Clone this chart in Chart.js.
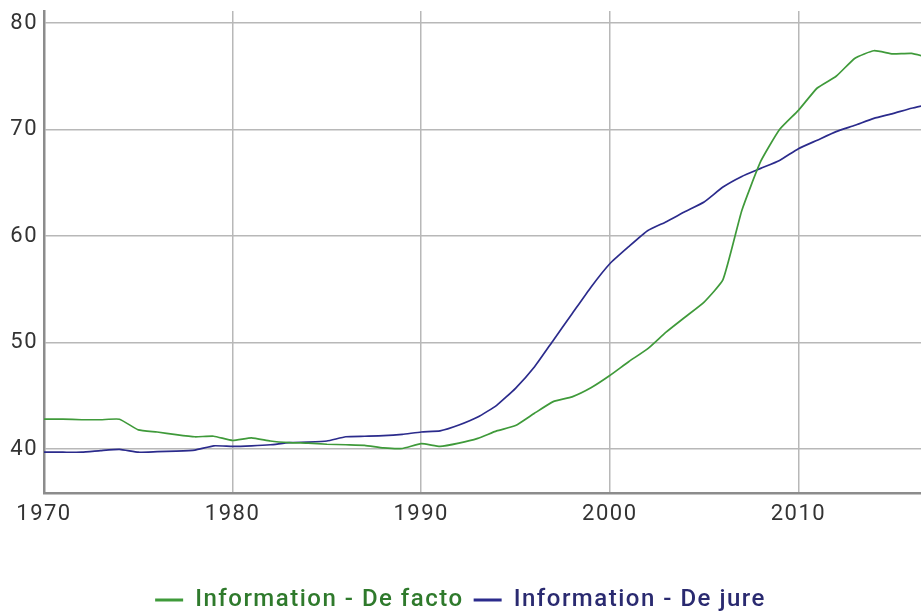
<!DOCTYPE html>
<html>
<head>
<meta charset="utf-8">
<script src="https://cdn.jsdelivr.net/npm/chart.js@4.4.1/dist/chart.umd.min.js"></script>
<style>
  html, body { margin: 0; padding: 0; background: #ffffff; }
  #wrap { width: 921px; height: 614px; }
</style>
</head>
<body>
<div id="wrap"><canvas id="c" width="921" height="614"></canvas></div>
<script>
const years = [1970,1971,1972,1973,1974,1975,1976,1977,1978,1979,
               1980,1981,1982,1983,1984,1985,1986,1987,1988,1989,
               1990,1991,1992,1993,1994,1995,1996,1997,1998,1999,
               2000,2001,2002,2003,2004,2005,2006,2007,2008,2009,
               2010,2011,2012,2013,2014,2015,2016,2017];
const deFacto = [42.8,42.8,42.75,42.75,42.8,41.8,41.6,41.35,41.15,41.2,
                 40.8,41.05,40.75,40.6,40.55,40.45,40.4,40.35,40.1,40.05,
                 40.5,40.25,40.55,41.0,41.7,42.2,43.35,44.45,44.9,45.75,
                 46.9,48.2,49.4,51.0,52.4,53.8,55.9,62.4,67.0,70.0,
                 71.8,73.9,75.0,76.7,77.4,77.1,77.15,76.7];
const deJure = [39.7,39.7,39.7,39.85,39.97,39.7,39.75,39.8,39.9,40.3,
                40.25,40.3,40.4,40.6,40.65,40.75,41.15,41.2,41.25,41.38,
                41.6,41.7,42.25,43.0,44.1,45.7,47.7,50.2,52.7,55.2,
                57.4,59.0,60.5,61.35,62.3,63.2,64.6,65.6,66.35,67.1,
                68.2,69.0,69.8,70.4,71.05,71.5,72.0,72.4];
const xTicks = [1970,1980,1990,2000,2010];
const yTicks = [40,50,60,70,80];
const seriesNames = ['Information - De facto','Information - De jure'];

const lineColors = ['#3f9a3a','#2b2b8c'];
const textColors = ['#2f7a2c','#2a2a70'];

const toPts = arr => years.map((y,i) => ({x: y, y: arr[i]}));

const spacingPlugin = {
  id: 'spacing',
  beforeUpdate: c => { c.ctx.letterSpacing = '1.5px'; },
  beforeDraw: c => { c.ctx.letterSpacing = '1.5px'; }
};

new Chart(document.getElementById('c'), {
  type: 'line',
  plugins: [spacingPlugin],
  data: {
    datasets: [
      { label: seriesNames[0], data: toPts(deFacto), borderColor: lineColors[0], backgroundColor: lineColors[0],
        borderWidth: 1.7, pointRadius: 0, tension: 0.15, fill: false },
      { label: seriesNames[1], data: toPts(deJure), borderColor: lineColors[1], backgroundColor: lineColors[1],
        borderWidth: 1.7, pointRadius: 0, tension: 0.15, fill: false }
    ]
  },
  options: {
    responsive: false,
    animation: false,
    devicePixelRatio: 1,
    layout: { padding: { top: 11, right: 0, bottom: -8, left: 0 } },
    scales: {
      x: {
        type: 'linear',
        min: 1970, max: 2016.5,
        afterBuildTicks: s => { s.ticks = xTicks.map(v => ({value: v})); },
        afterFit: s => { s.height = 85; },
        grid: { color: '#b8b8b8', lineWidth: 1.5, drawTicks: false },
        border: { color: '#8c8c8c', width: 2.5 },
        ticks: { color: '#333333', font: { family: 'Roboto', size: 22 }, padding: 8, maxRotation: 0,
                 callback: v => String(v) }
      },
      y: {
        type: 'linear',
        min: 35.87, max: 81.13,
        afterBuildTicks: s => { s.ticks = yTicks.map(v => ({value: v})); },
        afterFit: s => { s.width = 44; s.paddingTop = 0; s.paddingBottom = 0; },
        grid: { color: '#b8b8b8', lineWidth: 1.5, drawTicks: false },
        border: { color: '#8c8c8c', width: 2.5 },
        ticks: { color: '#333333', font: { family: 'Roboto', size: 22 }, padding: 6 }
      }
    },
    plugins: {
      tooltip: { enabled: false },
      legend: {
        position: 'bottom',
        labels: {
          boxWidth: 28, boxHeight: 3, padding: 10,
          font: { family: 'Roboto', size: 24, weight: '500' },
          generateLabels: chart => chart.data.datasets.map((ds, i) => ({
            text: ds.label, fillStyle: lineColors[i], strokeStyle: lineColors[i], lineWidth: 0,
            fontColor: textColors[i], hidden: false, datasetIndex: i
          }))
        }
      }
    }
  }
});
</script>
</body>
</html>
